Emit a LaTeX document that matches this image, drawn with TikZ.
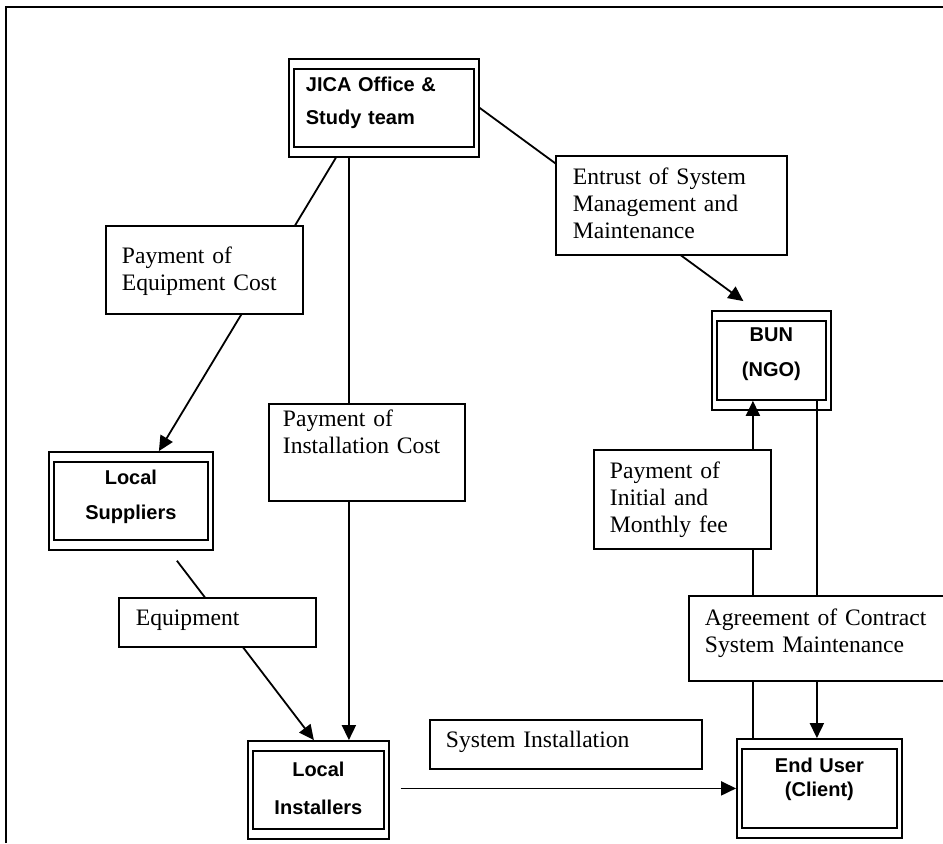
\documentclass[tikz,border=0pt]{standalone}
\usepackage{fontspec}
\setmainfont{Liberation Serif}
\setsansfont{Liberation Sans}
\usetikzlibrary{arrows.meta}
\usetikzlibrary{fit}

\begin{document}
\begin{tikzpicture}[x=0.5pt,y=-0.5pt,line width=0.9pt,
    unit/.style={draw, anchor=north west, align=center, inner xsep=0pt, inner ysep=0pt,
        font=\sffamily\bfseries\fontsize{10}{#1}\selectfont},
    unitframe/.style={draw, inner xsep=2pt, inner ysep=4.5pt},
    note/.style={draw, fill=white, anchor=north west, align=left, inner ysep=0pt,
        font=\rmfamily\fontsize{11.8}{13.5}\selectfont},
    flow/.style={-{Triangle[length=7.5pt,width=7pt]}}]
        \useasboundingbox (0,0) rectangle (943,843);
        \draw (6,843) -- (6,7) -- (943,7);

        \node[unit=16.5pt, align=left, inner xsep=6pt, text width=78pt, text height=11.5pt, text depth=27.5pt] (jica) at (293,68) {JICA Office \&\\Study team};
        \node[unit=17.5pt, text width=54.5pt, text height=10.5pt, text depth=29pt] (bun) at (716,320) {BUN\\(NGO)};
        \node[unit=17.5pt, text width=77pt, text height=11.5pt, text depth=27.5pt] (supp) at (53,461) {Local\\Suppliers};
        \node[unit=19pt, text width=65.5pt, text height=13pt, text depth=26pt] (inst) at (252,750) {Local\\Installers};
        \node[unit=12pt, text width=77.5pt, text height=12pt, text depth=27.5pt] (user) at (741,748) {End User\\(Client)};
        \foreach \n in {jica,bun,supp,inst,user}
            \node[unitframe, fit=(\n)] (\n-o) {};

        \draw[flow] ([shift={(-48,0)}]jica-o.south) -- ([shift={(28,0)}]supp-o.north);
        \draw[flow] ([shift={(-35,0)}]jica-o.south) -- ([shift={(30.5,0)}]inst-o.north);
        \draw[flow] (jica-o.east) -- ([shift={(-28,-9)}]bun-o.north);
        \draw[flow] ([shift={(46,10)}]supp-o.south) -- ([shift={(-4.5,0)}]inst-o.north);
        \draw[flow] ([shift={(11,-1.5)}]inst-o.east) -- (user-o.west);
        \draw[flow] ([shift={(45.5,0)}]bun.south) -- ([shift={(-2.5,0)}]user-o.north);
        \draw[flow] ([shift={(-66.5,0)}]user-o.north) -- ([shift={(-18.5,0)}]bun.south);

        \node[note, inner xsep=8pt, text width=82.5pt, text height=19pt, text depth=25pt] (payeq) at (105,225) {Payment of\\Equipment Cost};
        \node[note, inner xsep=7pt, text width=84pt, text height=11.5pt, text depth=37pt] (payinst) at (268,403) {Payment of\\Installation Cost};
        \node[note, inner xsep=8.5pt, text width=98.5pt, text height=14.5pt, text depth=35pt] (entrust) at (555,155) {Entrust of System\\Management and\\Maintenance};
        \node[note, inner xsep=8.5pt, text width=81.5pt, text height=14pt, text depth=10.5pt] (equip) at (118,597) {Equipment};
        \node[note, inner xsep=8pt, text width=72.5pt, text height=14.5pt, text depth=35pt] (payinit) at (593,449) {Payment of\\Initial and\\Monthly fee};
        \node[note, inner xsep=8pt, text width=112.5pt, text height=15pt, text depth=27.5pt] (agree) at (688,595) {Agreement of Contract\\System Maintenance};
        \node[note, inner xsep=8pt, text width=120pt, text height=14pt, text depth=10.5pt] (sysinst) at (429,719) {System Installation};
\end{tikzpicture}
\end{document}
